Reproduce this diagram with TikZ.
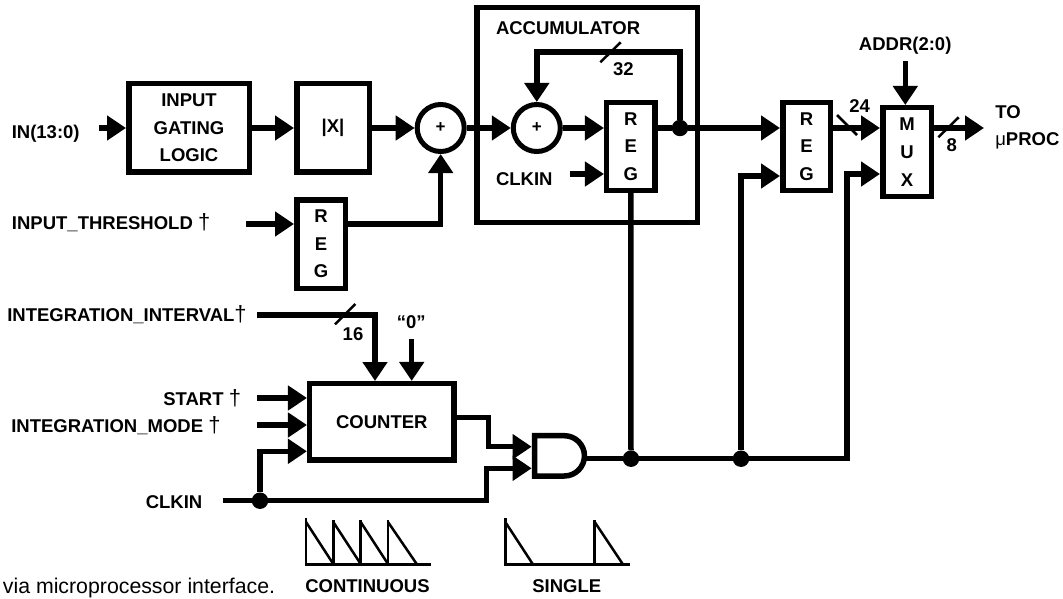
\documentclass[tikz,border=0pt]{standalone}
\usepackage{fontspec}
\setmainfont{Liberation Sans}
\usetikzlibrary{arrows.meta,calc}
\newcommand{\dgr}{{\mdseries\fontsize{22}{22}\selectfont †}}
\tikzset{
  x=1pt,y=-1pt,
  lbl/.style={inner sep=0pt,outer sep=0pt,font=\fontsize{18.5}{27.7}\selectfont\bfseries,text height=13.2pt,text depth=0pt},
  box/.style={draw,line width=5.5pt,inner sep=0pt,align=center,font=\fontsize{18.5}{27.7}\selectfont\bfseries},
  adder/.style={draw,circle,line width=5pt,inner sep=0pt,minimum size=47pt,font=\fontsize{17}{20}\selectfont\bfseries},
  wire/.style={line width=5.5pt},
  arr/.style={wire,-{Triangle[length=19pt,width=24pt]}},
  dot/.style={circle,fill=black,inner sep=0pt,minimum size=16.5pt},
  tick/.style={line width=2.5pt},
  wave/.style={line width=2.5pt}
}
\begin{document}
\begin{tikzpicture}
\useasboundingbox (0,0) rectangle (1063,599);
\fill[white] (0,0) rectangle (1063,599);
% row references
\coordinate (rowa) at (0,128);
% blocks
\node[box,minimum width=120.5pt,minimum height=88.5pt] (gate) at (189,128) {INPUT\\GATING\\LOGIC};
\node[box,minimum width=72.5pt,minimum height=88.5pt] (abs) at (333,128) {|X|};
\node[adder] (sum) at (440.7,128) {+};
\node[box,minimum width=48.5pt,minimum height=88.5pt] (threg) at (321,244) {R\\E\\G};
\node[box,minimum width=220.5pt,minimum height=214.5pt] (acc) at (587,115) {};
\node[adder] (asum) at (536.8,128) {+};
\node[box,minimum width=48.2pt,minimum height=87.5pt] (areg) at (630.8,146.5) {R\\E\\G};
\node[box,minimum width=47.5pt,minimum height=87.5pt] (oreg) at (806.5,146.5) {R\\E\\G};
\node[box,minimum width=48.5pt,minimum height=88.5pt] (mux) at (907,152) {M\\U\\X};
\node[box,minimum width=144.2pt,minimum height=76.2pt] (cnt) at (381.8,421.8) {COUNTER};
% AND gate
\draw[line width=5.5pt,line join=miter] (534.7,435.7) -- (564.3,435.7) arc[start angle=90,end angle=-90,radius=20.15pt] -- (534.7,476) -- cycle;
\coordinate (andone) at (531.7,446.7);
\coordinate (andtwo) at (531.7,468.3);
\coordinate (andout) at (585,458.7);
% labels
\node[lbl,anchor=west] (lin) at (11.8,131.5) {IN(13:0)};
\node[lbl,anchor=west] (lth) at (12,222.7) {INPUT\_THRESHOLD \dgr};
\node[lbl,anchor=west] (lint) at (7.3,315) {INTEGRATION\_INTERVAL\dgr};
\node[lbl,anchor=east] (lst) at (241,399.3) {START \dgr};
\node[lbl,anchor=east] (lmo) at (220.5,425.7) {INTEGRATION\_MODE \dgr};
\node[lbl,anchor=east] (lck) at (202.3,502.3) {CLKIN};
\node[lbl] (lzero) at (411.3,321.7) {“0”};
\node[lbl] (lsixt) at (353,334.3) {16};
\node[lbl,anchor=west] (lacc) at (496,27.7) {ACCUMULATOR};
\node[lbl,anchor=west] (lack) at (496,179) {CLKIN};
\node[lbl] (ltt) at (623.3,69) {32};
\node[lbl] (ltf) at (859.7,106) {24};
\node[lbl] (leight) at (951.7,145) {8};
\node[lbl,anchor=center] (laddr) at (905.2,44) {ADDR(2:0)};
\node[lbl,anchor=west] (lto) at (995.3,111.7) {TO};
\node[lbl,anchor=west] (lproc) at (995.3,139) {{\mdseries μ}PROC};
\node[lbl] (lcont) at (367.5,585.7) {CONTINUOUS};
\node[lbl] (lsing) at (566.7,585.7) {SINGLE};
\node[inner sep=0pt,anchor=west,font=\fontsize{21.3}{24}\selectfont] (lvia) at (2.7,588) {via microprocessor interface.};
% free ends
\coordinate (inS) at (99,128);
\coordinate (thS) at (246,224);
\coordinate (intS) at (257,315);
\coordinate (zeroS) at (411.7,339);
\coordinate (stS) at (257,398);
\coordinate (moS) at (257,425);
\coordinate (ckS) at (222.7,500.7);
\coordinate (ackS) at (570,174);
\coordinate (addrS) at (905.3,61);
\coordinate (toE) at (984,128);
\coordinate (cntO) at (456.7,417.3);
\coordinate (muxB) at (847,458.7);
% dots
\node[dot] (dfb) at (680,128) {};
\node[dot] (dck) at (260,500.7) {};
\node[dot] (dand) at (631,458.7) {};
\node[dot] (dreg) at (741,458.7) {};
% connectors
\draw[arr] (inS) -- (gate.west);
\draw[arr] (gate.east) -- (abs.west);
\draw[arr] (abs.east) -- (sum.west);
\draw[arr] (sum.east) -- (asum.west);
\draw[arr] (asum.east) -- (areg.west |- rowa);
\draw[wire] (areg.east |- rowa) -- (dfb);
\draw[arr] (dfb) -- (oreg.west |- rowa);
\draw[arr] (dfb) -- (680,52) -| (asum.north);
\draw[arr] (oreg.east |- rowa) -- (mux.west |- rowa);
\draw[arr] (mux.east |- rowa) -- (toE);
\draw[arr] (addrS) -- (addrS |- mux.north);
\draw[arr] (thS) -- (threg.west |- thS);
\draw[arr] (threg.east |- thS) -| (sum.south);
\draw[arr] (ackS) -- (areg.west |- ackS);
\draw[arr] (intS) -| (375,381);
\draw[arr] (zeroS) -- (zeroS |- cnt.north);
\draw[arr] (stS) -- (stS -| cnt.west);
\draw[arr] (moS) -- (moS -| cnt.west);
\draw[wire] (ckS) -- (dck);
\draw[arr] (dck) |- (cnt.west |- 0,451.3);
\draw[arr] (dck) -- (486.7,500.7) |- (andtwo);
\draw[arr] (cntO) -| (488.3,446.7) -- (andone);
\draw[wire] (andout) -- (dand) -- (dreg);
\draw[wire] (areg.south) -- (dand);
\draw[arr] (dreg) -- (muxB) |- (mux.west |- 0,174);
\draw[arr] (dreg) |- (oreg.west |- 0,176);
% bus ticks
\draw[tick] (600.3,62.3) -- (620.7,42.3);
\draw[tick] (837,115) -- (857,135);
\draw[tick] (938.3,137.3) -- (958.7,117.3);
\draw[tick] (335,324.3) -- (355.3,304);
% waveforms
\draw[wave] (305,564.3) -- (431,564.3);
\draw[wave] (306,518.3) -- (306,564.3);
\draw[wave] (333.3,520) -- (333.3,564.3) (360.7,520) -- (360.7,564.3) (388,520) -- (388,564.3);
\draw[wave] (306,522) -- (333.3,564) (333.3,522) -- (360.7,564) (360.7,522) -- (388,564) (388,522) -- (416.7,564);
\draw[wave] (504,564.3) -- (630,564.3);
\draw[wave] (505.3,518.3) -- (505.3,564.3) (594.7,520) -- (594.7,564.3);
\draw[wave] (505.3,522) -- (532.7,564) (594.7,522) -- (622.7,564);
\end{tikzpicture}
\end{document}
